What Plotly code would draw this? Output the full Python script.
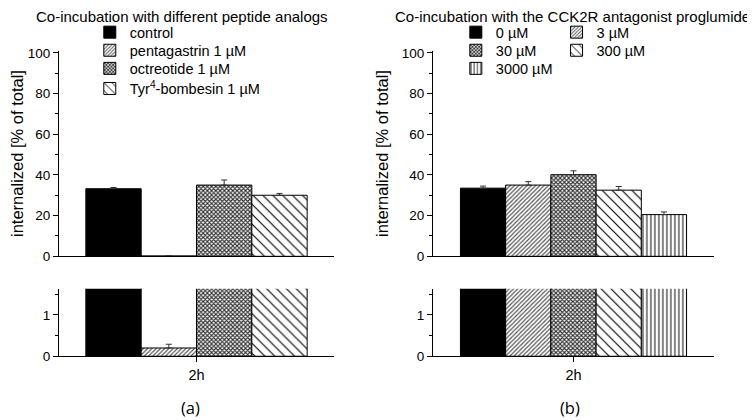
import plotly.graph_objects as go

# ---------------- data ----------------
category = ["2h"]

left_names = ["control", "pentagastrin 1 µM", "octreotide 1 µM", "Tyr<sup>4</sup>-bombesin 1 µM"]
left_values = [33.2, 0.2, 35.0, 30.0]
left_errors = [0.6, 0.09, 2.5, 0.9]

right_names = ["0 µM", "3 µM", "30 µM", "300 µM", "3000 µM"]
right_values = [33.5, 35.0, 40.1, 32.5, 20.5]
right_errors = [1.0, 1.7, 1.9, 1.8, 1.3]

left_title = "Co-incubation with different peptide analogs"
right_title = "Co-incubation with the CCK2R antagonist proglumide"
y_title = "internalized [% of total]"
panel_labels = ["(a)", "(b)"]

# ---------------- styles ----------------
FONT = "Liberation Sans, Arial, sans-serif"
P_SOLID = dict(shape="", fgcolor="black", bgcolor="black")
P_FINE = dict(shape="/", size=3, solidity=0.4, fgcolor="#555", bgcolor="white", fillmode="replace")
P_CHECK = dict(shape="x", size=3, solidity=0.6, fgcolor="#333", bgcolor="white", fillmode="replace")
P_BACK = dict(shape="\\", size=7, solidity=0.16, fgcolor="black", bgcolor="white", fillmode="replace")
P_VERT = dict(shape="|", size=4, solidity=0.3, fgcolor="#333", bgcolor="white", fillmode="replace")

left_patterns = [P_SOLID, P_FINE, P_CHECK, P_BACK]
right_patterns = [P_SOLID, P_FINE, P_CHECK, P_BACK, P_VERT]
left_colors = ["black", "white", "white", "white"]
right_colors = ["black", "white", "white", "white", "white"]

W, H = 755, 420
# screen -> layout correction measured from earlier renders
X_OFF = 8
Y_OFF, Y_SCALE = 14.9, 0.963

# legend entry placement (screen pixels): left edge of entry, vertical centre
left_leg_pos = [(88, 34), (88, 52), (88, 70), (88, 90)]
right_leg_pos = [(455, 34), (556, 34), (455, 52), (556, 52), (455, 70)]


def fx(p):
    return (p - X_OFF) / W


def ly(p):
    return (p - Y_OFF) / Y_SCALE


def fy(p):
    return 1 - ly(p) / H


def px_x(a, b):
    return [fx(a), fx(b)]


def px_y(top, bottom):
    return [fy(bottom), fy(top)]


fig = go.Figure()
legend_layouts = {}
leg_counter = [0]


def new_legend(px, py):
    leg_counter[0] += 1
    key = "legend" if leg_counter[0] == 1 else f"legend{leg_counter[0]}"
    legend_layouts[key] = dict(
        x=fx(px), y=fy(py), xanchor="left", yanchor="middle",
        bgcolor="rgba(0,0,0,0)", font=dict(family=FONT, size=14.5, color="black"),
        itemwidth=30, tracegroupgap=0,
    )
    return key


def add_bars(names, values, errors, patterns, colors, leg_pos, xa_up, ya_up, xa_lo, ya_lo):
    for i, (n, v, e, p, c, lp) in enumerate(zip(names, values, errors, patterns, colors, leg_pos)):
        lg = new_legend(*lp)
        for up in (True, False):
            fig.add_trace(go.Bar(
                x=category, y=[v], name=n,
                xaxis=xa_up if up else xa_lo,
                yaxis=ya_up if up else ya_lo,
                marker=dict(color=c, pattern=p, line=dict(color="black", width=1)),
                error_y=dict(type="data", array=[e], arrayminus=[0], symmetric=False,
                             color="#333", thickness=1, width=3),
                showlegend=up, legend=lg, offsetgroup=str(i),
            ))


add_bars(left_names, left_values, left_errors, left_patterns, left_colors,
         left_leg_pos, "x", "y", "x2", "y2")
add_bars(right_names, right_values, right_errors, right_patterns, right_colors,
         right_leg_pos, "x3", "y3", "x4", "y4")

TICKFONT = dict(family=FONT, size=13.5, color="black")
xcommon = dict(type="category", showline=True, linecolor="black", linewidth=1,
               tickfont=dict(family=FONT, size=14.5, color="black"), range=[-0.5, 0.5])
ycommon = dict(showline=True, linecolor="black", linewidth=1, ticks="outside",
               tickcolor="black", ticklen=5, showgrid=False, zeroline=False,
               tickfont=TICKFONT)

lay = dict(
    width=W, height=H, margin=dict(l=0, r=0, t=0, b=0),
    paper_bgcolor="white", plot_bgcolor="white",
    barmode="group", bargap=0.196, bargroupgap=0,
    font=dict(family=FONT, size=14, color="black"),
)

lay["xaxis"] = dict(xcommon, domain=px_x(57, 333), anchor="y", showticklabels=False, ticks="")
lay["xaxis2"] = dict(xcommon, domain=px_x(57, 333), anchor="y2", ticks="outside", ticklen=5,
                     tickcolor="black")
lay["xaxis3"] = dict(xcommon, domain=px_x(432, 714), anchor="y3", showticklabels=False, ticks="")
lay["xaxis4"] = dict(xcommon, domain=px_x(432, 714), anchor="y4", ticks="outside", ticklen=5,
                     tickcolor="black")

up_y = dict(ycommon, range=[0, 101], tickvals=[0, 20, 40, 60, 80, 100],
            minor=dict(dtick=10, ticks="outside", ticklen=3, tickcolor="black"),
            title=dict(text=y_title, font=dict(family=FONT, size=16.5), standoff=8))
lo_y = dict(ycommon, range=[0, 1.63], tickvals=[0, 1],
            minor=dict(dtick=0.5, ticks="outside", ticklen=3, tickcolor="black"))

lay["yaxis"] = dict(up_y, domain=px_y(52.4, 256.7), anchor="x")
lay["yaxis2"] = dict(lo_y, domain=px_y(289, 356), anchor="x2")
lay["yaxis3"] = dict(up_y, domain=px_y(52.4, 256.7), anchor="x3")
lay["yaxis4"] = dict(lo_y, domain=px_y(289, 356), anchor="x4")

lay.update(legend_layouts)

TITLE_Y = 1 - 4 / H  # as high as the page allows
lay["annotations"] = [
    dict(text=left_title, x=fx(180), y=TITLE_Y, xref="paper", yref="paper",
         showarrow=False, font=dict(family=FONT, size=15), xanchor="center", yanchor="middle"),
    dict(text=right_title, x=fx(572), y=TITLE_Y, xref="paper", yref="paper",
         showarrow=False, font=dict(family=FONT, size=15), xanchor="center", yanchor="middle"),
    dict(text=panel_labels[0], x=fx(189), y=fy(407), xref="paper", yref="paper",
         showarrow=False, font=dict(family="Open Sans, sans-serif", size=16.5),
         xanchor="center", yanchor="middle"),
    dict(text=panel_labels[1], x=fx(569), y=fy(407), xref="paper", yref="paper",
         showarrow=False, font=dict(family="Open Sans, sans-serif", size=16.5),
         xanchor="center", yanchor="middle"),
]

fig.update_layout(**lay)
fig.write_html("out.html")
